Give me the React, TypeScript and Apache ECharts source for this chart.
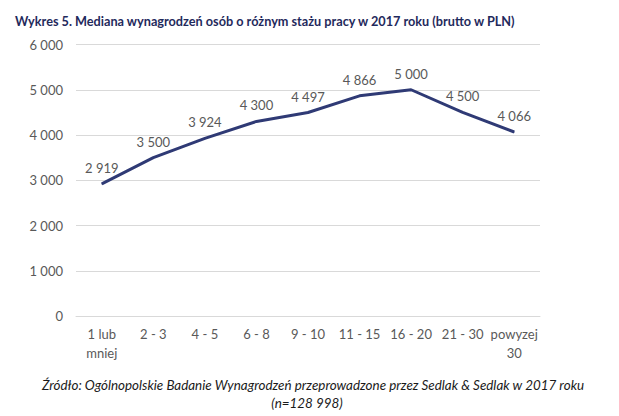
import React, { useEffect, useRef } from "react";
import * as echarts from "echarts";

const categories = ["1 lub\nmniej", "2 - 3", "4 - 5", "6 - 8", "9 - 10", "11 - 15", "16 - 20", "21 - 30", "powyzej\n30"];
const values = [2919, 3500, 3924, 4300, 4497, 4866, 5000, 4500, 4066];
const titleText = "Wykres 5. Mediana wynagrodzeń osób o różnym stażu pracy w 2017 roku (brutto w PLN)";
const sourceLine1 = "Źródło: Ogólnopolskie Badanie Wynagrodzeń przeprowadzone przez Sedlak & Sedlak w 2017 roku";
const sourceLine2 = "(n=128 998)";

const fmt = (v: number) => String(v).replace(/\B(?=(\d{3})+(?!\d))/g, " ");

export default function App() {
  const ref = useRef<HTMLDivElement>(null);
  useEffect(() => {
    const chart = echarts.init(ref.current!, null, { renderer: "svg" });
    const font = "Lato, 'Open Sans', sans-serif";
    chart.setOption({
      animation: false,
      backgroundColor: "#ffffff",
      textStyle: { fontFamily: font },
      title: [
        {
          text: titleText,
          left: 10,
          top: 9,
          textStyle: { fontFamily: font, fontSize: 12.7, fontWeight: "bold", color: "#1F2A5C" },
        },
        {
          text: sourceLine1,
          left: 308,
          textAlign: "center",
          top: 373,
          textStyle: { fontFamily: font, fontSize: 13.4, fontStyle: "italic", fontWeight: "normal", color: "#1a1a1a" },
        },
        {
          text: sourceLine2,
          left: 302,
          textAlign: "center",
          top: 391,
          textStyle: { fontFamily: font, fontSize: 13.4, fontStyle: "italic", fontWeight: "normal", color: "#1a1a1a" },
        },
      ],
      grid: { left: 76, right: 79, top: 44.5, bottom: 100, containLabel: false },
      xAxis: {
        type: "category",
        data: categories,
        boundaryGap: true,
        axisLine: { show: true, lineStyle: { color: "#D9D9D9", width: 1 } },
        axisTick: { show: false },
        axisLabel: { color: "#595959", fontSize: 13, margin: 8, lineHeight: 19, interval: 0 },
      },
      yAxis: {
        type: "value",
        min: 0,
        max: 6000,
        interval: 1000,
        axisLine: { show: false },
        axisTick: { show: false },
        splitLine: { lineStyle: { color: "#D9D9D9", width: 1 } },
        axisLabel: { color: "#595959", fontSize: 13, margin: 13, formatter: (v: number) => fmt(v) },
      },
      series: [
        {
          type: "line",
          data: values,
          symbol: "circle",
          symbolSize: 1,
          showSymbol: true,
          itemStyle: { color: "#2F3A75" },
          lineStyle: { color: "#2F3A75", width: 3 },
          label: {
            show: true,
            position: "top",
            distance: 9,
            color: "#595959",
            fontSize: 13,
            formatter: (p: any) => fmt(p.value),
          },
        },
      ],
    });
    return () => chart.dispose();
  }, []);
  return <div ref={ref} style={{ position: "fixed", left: 0, top: 0, width: 619, height: 416 }} />;
}
